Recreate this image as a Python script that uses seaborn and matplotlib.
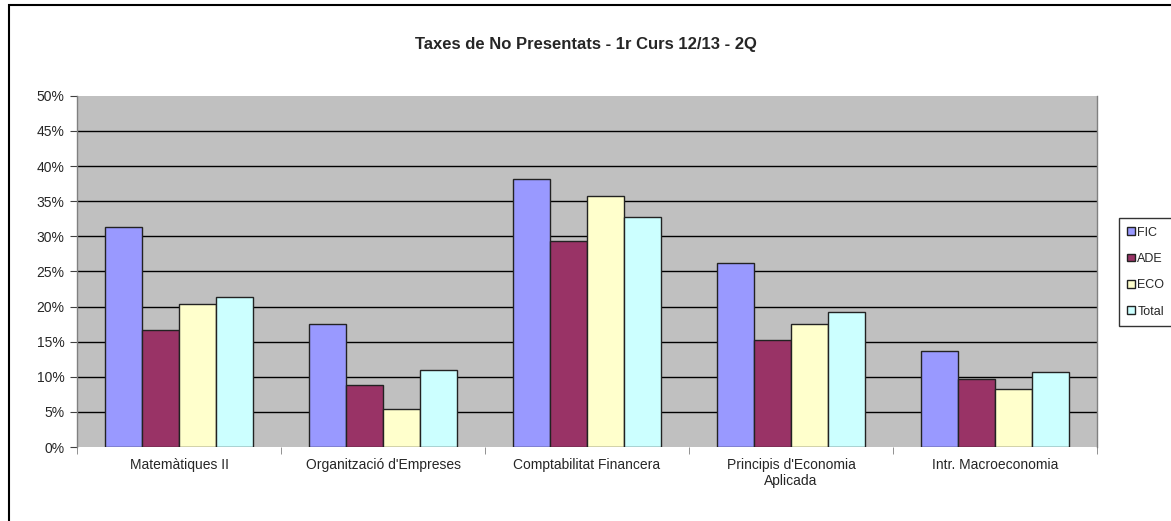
import pandas as pd
import matplotlib.pyplot as plt
import seaborn as sns
from matplotlib.patches import Rectangle
from matplotlib.ticker import PercentFormatter, FixedLocator

assignatures = ['Matemàtiques II', "Organització d'Empreses", 'Comptabilitat Financera',
                "Principis d'Economia\nAplicada", 'Intr. Macroeconomia']
grups = ['FIC', 'ADE', 'ECO', 'Total']
fic = [31.3, 17.5, 38.1, 26.2, 13.7]
ade = [16.6, 8.8, 29.4, 15.3, 9.7]
eco = [20.4, 5.4, 35.7, 17.5, 8.3]
total = [21.4, 11.0, 32.8, 19.2, 10.7]
colors = ['#9999FF', '#993366', '#FFFFCC', '#CCFFFF']

rows = []
for g, vals in zip(grups, [fic, ade, eco, total]):
    for a, v in zip(assignatures, vals):
        rows.append({'assignatura': a, 'grup': g, 'taxa': v})
df = pd.DataFrame(rows)

sns.set_style('white')
plt.rcParams['font.family'] = ['Liberation Sans', 'DejaVu Sans']

fig = plt.figure(figsize=(11.71, 5.21), dpi=100)
ax = fig.add_axes([0.0658, 0.142, 0.871, 0.674])
ax.set_facecolor('#C0C0C0')

sns.barplot(data=df, x='assignatura', y='taxa', hue='grup', palette=colors,
            saturation=1, width=0.725, edgecolor='#222222', linewidth=1,
            ax=ax, zorder=3)

ax.set_ylim(0, 50)
ax.set_yticks(range(0, 51, 5))
ax.yaxis.set_major_formatter(PercentFormatter(decimals=0))
# gridlines only inside the plot area (no line on 0% and 50%)
for yv in range(5, 50, 5):
    ax.axhline(yv, color='black', linewidth=1, zorder=1)
ax.set_xlim(-0.5, len(assignatures) - 0.5)
ax.xaxis.set_minor_locator(FixedLocator([i + 0.5 for i in range(-1, len(assignatures))]))
ax.tick_params(axis='x', which='major', length=0, pad=8, labelsize=10)
ax.tick_params(axis='x', which='minor', length=5, color='#808080', direction='out', bottom=True)
ax.tick_params(axis='y', length=5, color='#404040', direction='out', left=True, labelsize=10, pad=4)
ax.set_xlabel('')
ax.set_ylabel('')
for s in ['top', 'bottom']:
    ax.spines[s].set_visible(False)
for s in ['left', 'right']:
    ax.spines[s].set_color('#808080')
    ax.spines[s].set_linewidth(1)

handles, labels = ax.get_legend_handles_labels()
leg = ax.legend(handles, labels, loc='upper left', bbox_to_anchor=(0.950, 0.594),
                bbox_transform=fig.transFigure, frameon=True, fontsize=9,
                handlelength=0.6, handleheight=0.6, handletextpad=0.2,
                labelspacing=1.15, borderpad=0.7, fancybox=False)
leg.get_frame().set_edgecolor('black')
leg.get_frame().set_linewidth(1)

fig.suptitle('Taxes de No Presentats - 1r Curs 12/13 - 2Q', y=0.929,
             fontsize=12, fontweight='bold')

fig.patches.append(Rectangle((0.008, -0.05), 1.1, 1.04, transform=fig.transFigure,
                             fill=False, edgecolor='black', linewidth=1.5))

fig.savefig('out.png', dpi=100)
